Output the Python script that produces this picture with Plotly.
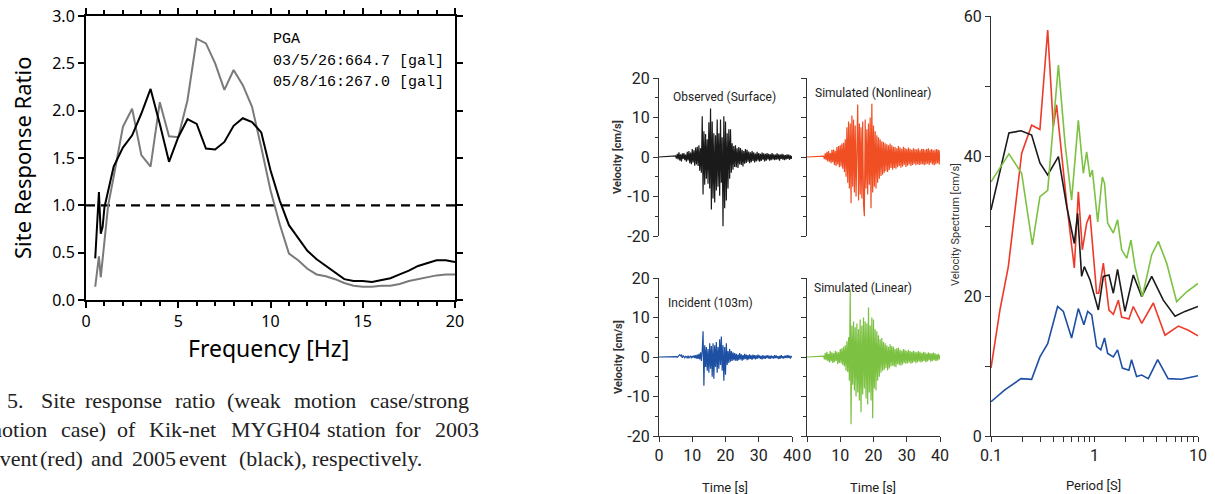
import plotly.graph_objects as go

W, H = 1215, 494

# ---------------- Left chart: site response ratio ----------------
freq_2005 = [0.5, 0.7, 0.8, 0.9, 1.0, 1.5, 2.0, 2.5, 3.0, 3.5, 4.0, 4.5, 5.0, 5.5, 6.0, 6.5, 7.0,
             7.5, 8.0, 8.5, 9.0, 9.5, 10.0, 10.5, 11.0, 11.5, 12.0, 12.5, 13.0, 13.5, 14.0, 14.5,
             15.0, 15.5, 16.0, 16.5, 17.0, 17.5, 18.0, 18.5, 19.0, 19.5, 20.0]
ratio_2005 = [0.44, 1.14, 0.70, 0.77, 0.98, 1.41, 1.61, 1.74, 1.97, 2.23, 1.86, 1.46, 1.72, 1.91,
              1.86, 1.60, 1.59, 1.67, 1.84, 1.92, 1.88, 1.77, 1.37, 1.05, 0.79, 0.66, 0.52, 0.43,
              0.36, 0.29, 0.22, 0.20, 0.20, 0.19, 0.21, 0.23, 0.27, 0.31, 0.36, 0.39, 0.42, 0.42, 0.40]
freq_2003 = [0.5, 0.7, 0.8, 1.0, 1.2, 1.5, 2.0, 2.5, 3.0, 3.5, 4.0, 4.5, 5.0, 5.5, 6.0, 6.5, 7.0,
             7.5, 8.0, 8.5, 9.0, 9.5, 10.0, 10.5, 11.0, 11.5, 12.0, 12.5, 13.0, 13.5, 14.0, 14.5,
             15.0, 15.5, 16.0, 16.5, 17.0, 17.5, 18.0, 18.5, 19.0, 19.5, 20.0]
ratio_2003 = [0.14, 0.46, 0.24, 0.62, 1.0, 1.30, 1.83, 2.02, 1.53, 1.41, 2.09, 1.73, 1.72, 2.11,
              2.76, 2.71, 2.50, 2.22, 2.43, 2.27, 2.04, 1.61, 1.16, 0.80, 0.49, 0.42, 0.33, 0.27,
              0.25, 0.22, 0.18, 0.15, 0.14, 0.14, 0.15, 0.15, 0.17, 0.20, 0.22, 0.24, 0.26, 0.27, 0.27]
ref_freq = [0, 20]
ref_ratio = [1.0, 1.0]
pga_lines = ["PGA", "03/5/26:664.7 [gal]", "05/8/16:267.0 [gal]"]

# ---------------- Middle: velocity waveforms ----------------
dt = 0.25
t_start = 5.0
wave_observed = [
    0.3, -0.4, 0.8, -0.6, 1.2, -0.9, 0.7, -1.1, 0.9, -0.5, 1.0, -0.8, 0.6,
    -1.2, 1.3, -0.9, 1.5, -1.6, 1.1, -1.8, 2.0, -1.4, 1.7, -2.2, 2.4,
    -1.9, 2.6, -2.3, 3.0, -3.5, 2.2, -4.0, 10.3,
    -9.5, 6.5, -7.0, 5.8, -5.5, 4.5, -6.8, 8.8,
    -8.0, 12.3, -13.3, 9.0, -10.5, 6.0, -11.5, 5.5,
    -8.5, 9.5, -7.5, 6.0, -9.8, 9.5, -6.5, 5.0,
    -17.5, 10.3, -13.0, 9.0, -11.0, 6.0, -8.0, 7.0,
    -5.5, 7.0, -4.0, 3.5, -3.2, 2.8, -2.5, 3.0,
    -2.6, 2.2, -2.8, 2.5, -1.9, 2.3, -2.0, 1.8, -2.4, 1.5, -1.7, 2.0,
    -1.5, 1.8, -1.2, 1.4, -1.6, 1.2, -1.3, 1.5, -1.0, 1.2, -1.4, 0.9, -1.1, 1.3, -0.9, 1.0,
    -1.2, 0.8, -1.0, 1.1, -0.7, 0.9, -1.1, 0.8, -0.9, 1.0, -0.6, 0.8, -0.9, 0.7, -0.8, 1.0, -0.6, 0.7, -0.8, 0.6,
    -0.7, 0.9, -0.6, 0.7, -0.9, 0.6, -0.5, 0.8, -0.7, 0.6, -0.8, 0.5, -0.6, 0.7, -0.5, 0.6, -0.7, 0.4, -0.5, 0.3]
wave_nonlinear = [
    0.2, -0.5, 0.9, -0.8, 1.3, -1.1, 1.5, -1.2, 1.0, -1.6, 1.8, -1.3, 1.9,
    -2.0, 1.6, -2.3, 2.5, -1.9, 2.8, -2.6, 3.0, -2.4, 3.4, -3.0, 3.6,
    -3.8, 4.5, -5.0, 7.5, -6.5, 9.0, -8.0, 8.5,
    -11.7, 10.5, -7.5, 9.5, -9.0, 8.0, -10.0, 11.0,
    13.3, -11.0, 8.5, -9.5, 7.5, -10.5, 9.0, -12.0,
    -15.0, 9.5, -8.0, 7.0, -9.5, 8.5, -7.0, 10.0,
    -13.0, 13.5, -9.0, 8.0, -7.5, 6.5, -8.0, 5.5,
    -6.5, 5.0, -5.5, 4.5, -4.8, 4.0, -4.5, 3.8,
    -4.0, 3.5, -3.6, 3.2, -3.8, 3.0, -3.3, 3.4, -2.8, 3.0, -3.2, 2.6,
    -2.8, 2.5, -3.0, 2.2, -2.6, 2.8, -2.3, 2.4, -2.7, 2.1, -2.4, 2.6, -2.0, 2.3, -2.5, 2.0,
    -2.2, 2.4, -1.9, 2.1, -2.3, 1.8, -2.0, 2.2, -1.7, 2.0, -2.1, 1.9, -1.8, 2.2, -2.0, 1.7, -1.9, 2.1, -1.8, 2.0,
    -2.1, 1.8, -1.9, 2.0, -1.7, 2.2, -2.0, 1.8, -1.6, 2.0, -1.9, 1.7, -2.1, 1.9, -1.8, 2.0, -1.6, 1.8, -1.9, 1.7]
wave_incident = [
    0.0, 0.1, -0.1, 0.2, 0.5, 0.6, 0.3, 0.5, -0.2, 0.3, 0.1, -0.2, 0.2,
    0.1, -0.3, 0.3, -0.2, 0.1, 0.3, -0.3, 0.2, -0.1, 0.4, -0.3, 0.5,
    -0.4, 0.6, -0.5, 0.8, -0.6, 1.2, -1.0, 1.5,
    6.5, -7.3, 3.0, -2.5, 2.5, -3.5, 2.0, -4.0,
    3.5, -3.0, 2.8, -5.0, 3.5, -5.5, 3.0, -2.5,
    3.8, -4.0, 2.5, -3.0, 4.5, -2.0, 5.2, -3.5,
    3.0, -6.0, 2.5, -4.5, 3.5, -2.0, 1.5, -1.5,
    2.0, -1.2, 1.5, -1.0, 1.2, -0.8, 1.0, -0.9,
    0.8, -1.0, 0.6, -0.8, 1.0, -0.6, 0.7, -0.9, 0.5, -0.7, 0.8, -0.5,
    0.6, -0.8, 0.5, -0.6, 0.7, -0.5, 0.4, -0.7, 0.6, -0.4, 0.5, -0.6, 0.4, -0.5, 0.6, -0.3,
    0.4, -0.5, 0.3, -0.6, 0.5, -0.4, 0.3, -0.5, 0.4, -0.3, 0.5, -0.4, 0.3, -0.5, 0.4, -0.3, 0.2, -0.4, 0.5, -0.3,
    0.4, -0.3, 0.2, -0.5, 0.3, -0.4, 0.5, -0.3, 0.2, -0.4, 0.3, -0.2, 0.4, -0.3, 0.5, -0.2, 0.3, -0.4, 0.2, 0.0]
wave_linear = [
    0.2, -0.6, 1.0, -0.8, 1.3, -1.0, 0.8, -1.4, 1.5, -1.1, 1.2, -1.5, 1.0,
    -1.3, 1.6, -1.0, 1.4, -1.8, 1.2, -1.5, 2.0, -1.6, 2.2, -2.0, 2.6,
    -2.4, 3.0, -3.5, 4.0, -3.8, 5.0, -6.0, 17.0,
    -17.0, 8.0, -7.0, 9.0, -8.5, 7.5, -10.0, 8.5,
    -9.0, 7.0, -11.0, 9.5, -14.0, 8.0, -9.5, 10.0,
    -8.0, 9.0, -10.5, 8.5, -12.0, 12.5, -9.0, 8.0,
    -11.0, 10.0, -15.5, 9.5, -8.0, 7.0, -8.5, 6.5,
    -6.0, 5.5, -5.0, 4.5, -4.0, 4.8, -3.5, 3.8,
    -3.2, 3.5, -2.8, 3.0, -3.4, 2.6, -2.9, 3.2, -2.4, 2.8, -2.2, 2.6,
    -2.4, 2.0, -2.6, 2.2, -1.8, 2.4, -2.0, 1.8, -2.2, 1.6, -1.9, 2.0, -1.5, 1.8, -1.7, 1.5,
    -1.6, 1.8, -1.4, 1.5, -1.7, 1.3, -1.5, 1.6, -1.2, 1.4, -1.6, 1.2, -1.3, 1.5, -1.1, 1.3, -1.4, 1.0, -1.2, 1.3,
    -1.0, 1.2, -1.3, 0.9, -1.1, 1.2, -0.8, 1.0, -1.2, 0.9, -1.0, 1.1, -0.8, 0.9, -1.0, 0.7, -0.9, 0.8, -0.6, 0.5]
wave_titles = ["Observed (Surface)", "Simulated (Nonlinear)", "Incident (103m)", "Simulated (Linear)"]
vel_ticks = [-20, -10, 0, 10, 20]
vel_ticktext = ["-20", "-10", "0", "10", "20"]
time_ticks = [0, 10, 20, 30, 40]

# ---------------- Right: velocity spectrum ----------------
period_black = [0.1, 0.149, 0.195, 0.247, 0.297, 0.353, 0.448, 0.539, 0.638, 0.687, 0.751, 0.797,
                0.905, 1.089, 1.217, 1.38, 1.52, 1.67, 1.97, 2.37, 2.86, 3.57, 4.62, 6.0, 7.48, 10.0]
spec_black = [32.3, 43.3, 43.6, 43.0, 39.0, 37.3, 39.9, 32.8, 27.5, 31.8, 22.8, 24.2,
              22.3, 18.0, 22.8, 23.0, 20.4, 23.8, 17.8, 23.0, 19.9, 22.8, 19.4, 17.1, 17.8, 18.5]
period_red = [0.1, 0.122, 0.147, 0.198, 0.247, 0.297, 0.353, 0.40, 0.43, 0.539, 0.638, 0.698,
              0.763, 0.84, 0.905, 1.048, 1.1, 1.217, 1.38, 1.52, 1.70, 1.83, 2.15, 2.37, 2.86,
              3.70, 4.80, 6.46, 8.07, 10.0]
spec_red = [9.7, 18.0, 24.2, 40.4, 44.4, 43.8, 58.0, 44.2, 47.3, 33.2, 24.0, 34.9,
            26.6, 30.4, 31.6, 20.4, 20.4, 24.7, 18.0, 17.4, 19.4, 17.0, 16.7, 18.5, 16.1,
            19.0, 14.4, 15.7, 15.1, 14.3]
period_green = [0.1, 0.149, 0.198, 0.251, 0.297, 0.353, 0.448, 0.519, 0.601, 0.698, 0.78, 0.84,
                0.905, 0.953, 1.074, 1.19, 1.25, 1.34, 1.52, 1.67, 1.83, 2.05, 2.25, 2.46, 2.90,
                3.57, 4.14, 4.98, 6.22, 7.78, 10.0]
spec_green = [36.3, 40.3, 37.5, 27.3, 34.2, 35.1, 53.0, 41.8, 33.7, 45.1, 37.5, 40.6,
              37.0, 38.0, 30.6, 37.0, 36.1, 30.4, 29.0, 30.9, 26.6, 25.4, 28.0, 24.2, 19.9,
              25.9, 27.8, 24.7, 19.2, 20.6, 21.8]
period_blue = [0.1, 0.136, 0.195, 0.247, 0.297, 0.353, 0.44, 0.50, 0.601, 0.698, 0.79, 0.86,
               0.94, 1.048, 1.15, 1.25, 1.34, 1.52, 1.67, 1.86, 2.15, 2.28, 2.55, 2.86, 3.31,
               4.08, 5.14, 6.9, 10.0]
spec_blue = [4.9, 6.6, 8.2, 8.1, 11.3, 13.2, 18.5, 17.8, 14.0, 18.2, 15.9, 17.8,
             17.3, 12.8, 12.3, 14.0, 11.8, 11.3, 12.3, 9.7, 9.4, 10.9, 8.5, 8.7, 8.2,
             10.9, 8.2, 8.1, 8.6]
period_ticks = [0.1, 0.2, 0.3, 0.4, 0.5, 0.6, 0.7, 0.8, 0.9, 1, 2, 3, 4, 5, 6, 7, 8, 9, 10]
period_labels = ["0.1", "", "", "", "", "", "", "", "", "1", "", "", "", "", "", "", "", "", "10"]
spec_ticks = [0, 10, 20, 30, 40, 50, 60]
spec_labels = ["0", "", "20", "", "40", "", "60"]

# ---------------- Caption words (x position in px, word) ----------------
caption_lines = [
    (400, [(5, "5."), (39, "Site"), (83, "response"), (173, "ratio"), (225, "(weak"),
           (292, "motion"), (368, "case/strong")]),
    (429, [(-17, "motion"), (59, "case)"), (115, "of"), (147, "Kik-net"), (229, "MYGH04"),
           (325, "station"), (393, "for"), (433, "2003")]),
    (458, [(-12, "event"), (38, "(red)"), (89, "and"), (130, "2005"), (177, "event"),
           (237, "(black),"), (310, "respectively.")]),
]

COL_BLACK = "#1a1a1a"
COL_RED = "#ee3a2a"
COL_WAVE_RED = "#f04e23"
COL_GREEN = "#7cc142"
COL_BLUE = "#1d4fa3"


def px(x):
    return x / W


def py(y):
    return 1 - y / H


fig = go.Figure()

# Left chart traces
fig.add_trace(go.Scatter(x=ref_freq, y=ref_ratio, mode="lines", xaxis="x", yaxis="y",
                         line=dict(color="black", width=2.2, dash="9px,6px"), showlegend=False))
fig.add_trace(go.Scatter(x=freq_2003, y=ratio_2003, mode="lines", xaxis="x", yaxis="y",
                         line=dict(color="#7a7a7a", width=2), showlegend=False))
fig.add_trace(go.Scatter(x=freq_2005, y=ratio_2005, mode="lines", xaxis="x", yaxis="y",
                         line=dict(color="black", width=2), showlegend=False))

# Waveforms
waves = [(wave_observed, COL_BLACK, "x2", "y2"),
         (wave_nonlinear, COL_WAVE_RED, "x3", "y3"),
         (wave_incident, COL_BLUE, "x4", "y4"),
         (wave_linear, COL_GREEN, "x5", "y5")]
for vals, col, xa, ya in waves:
    times = [0.0] + [t_start + dt * i for i in range(len(vals))]
    fig.add_trace(go.Scatter(x=times, y=[0.0] + vals, mode="lines", xaxis=xa, yaxis=ya,
                             line=dict(color=col, width=1.2), showlegend=False))

# Spectrum
for per, val, col in [(period_blue, spec_blue, COL_BLUE), (period_red, spec_red, COL_RED),
                      (period_black, spec_black, COL_BLACK), (period_green, spec_green, COL_GREEN)]:
    fig.add_trace(go.Scatter(x=per, y=val, mode="lines", xaxis="x6", yaxis="y6",
                             line=dict(color=col, width=1.6), showlegend=False))

left_font = dict(family="Noto Sans, DejaVu Sans, sans-serif", size=16, color="black")
mid_font = dict(family="Liberation Sans Narrow, Roboto, Open Sans, sans-serif", size=16, color="#222")
axcol = "#333"

layout = dict(
    width=W, height=H, margin=dict(l=0, r=0, t=0, b=0, autoexpand=False),
    paper_bgcolor="white", plot_bgcolor="rgba(0,0,0,0)", showlegend=False,
    xaxis=dict(domain=[px(86), px(455)], range=[0, 20], anchor="y", showline=True, linewidth=2,
               linecolor="black", mirror="ticks", ticks="outside", ticklen=6, tickwidth=1.5,
               tickcolor="black", dtick=5, tick0=0, showgrid=False, zeroline=False, tickfont=left_font,
               minor=dict(ticks="outside", dtick=1, ticklen=4, tickcolor="black", showgrid=False)),
    yaxis=dict(domain=[py(300), py(16)], range=[0, 3], anchor="x", showline=True, linewidth=2,
               linecolor="black", mirror="ticks", ticks="outside", ticklen=6, tickwidth=1.5,
               tickcolor="black", dtick=0.5, tick0=0, tickformat=".1f", showgrid=False,
               zeroline=False, tickfont=left_font),
)

mid_x = {"x2": (659, 792), "x3": (807, 940), "x4": (659, 792), "x5": (807, 940)}
mid_y = {"y2": (78, 236), "y3": (78, 236), "y4": (278, 436), "y5": (278, 436)}
for i, (xa, ya) in enumerate([("x2", "y2"), ("x3", "y3"), ("x4", "y4"), ("x5", "y5")]):
    xk = "xaxis" + xa[1:]
    yk = "yaxis" + ya[1:]
    bottom = i >= 2
    leftcol = i in (0, 2)
    layout[xk] = dict(domain=[px(mid_x[xa][0]), px(mid_x[xa][1])], range=[0, 40], anchor=ya,
                      showline=bottom, linecolor=axcol, linewidth=1.2,
                      ticks="outside" if bottom else "", ticklen=5, tickcolor=axcol,
                      tickvals=time_ticks, showticklabels=bottom, tickfont=mid_font,
                      showgrid=False, zeroline=False)
    layout[yk] = dict(domain=[py(mid_y[ya][1]), py(mid_y[ya][0])], range=[-20, 20], anchor=xa,
                      showline=True, linecolor=axcol, linewidth=1.2, ticks="outside", ticklen=5,
                      tickcolor=axcol, tickvals=vel_ticks, ticktext=vel_ticktext,
                      showticklabels=leftcol, tickfont=mid_font, showgrid=False, zeroline=False,
                      minor=dict(ticks="outside", dtick=5, ticklen=3, tickcolor=axcol, showgrid=False))

layout["xaxis6"] = dict(domain=[px(991), px(1198)], type="log", range=[-1, 1], anchor="y6",
                        showline=True, linecolor=axcol, linewidth=1.2, ticks="outside", ticklen=5,
                        tickcolor=axcol, tickvals=period_ticks, ticktext=period_labels,
                        tickfont=mid_font, showgrid=False, zeroline=False)
layout["yaxis6"] = dict(domain=[py(436), py(16)], range=[0, 60], anchor="x6", showline=True,
                        linecolor=axcol, linewidth=1.2, ticks="outside", ticklen=5, tickcolor=axcol,
                        tickvals=spec_ticks, ticktext=spec_labels, tickfont=mid_font,
                        showgrid=False, zeroline=False)

annotations = []


def ann(x, y, text, size, family, color="black", angle=0, xanchor="center", yanchor="middle"):
    annotations.append(dict(x=px(x), y=py(y), xref="paper", yref="paper", text=text,
                            showarrow=False, textangle=angle, xanchor=xanchor, yanchor=yanchor,
                            font=dict(size=size, family=family, color=color)))


sans = "Noto Sans, DejaVu Sans, sans-serif"
narrow = "Liberation Sans Narrow, Roboto, Open Sans, sans-serif"
mono = "Liberation Mono, DejaVu Sans Mono, monospace"
serif = "Liberation Serif, DejaVu Serif, serif"

ann(22, 158, "Site Response Ratio", 22, sans, angle=-90)
ann(268, 348, "Frequency [Hz]", 23, sans)
for k, line in enumerate(pga_lines):
    ann(271, 40 + k * 21.5, line, 15, mono, xanchor="left")

# waveform titles and labels
ann(725, 97, wave_titles[0], 12, narrow, color="#222")
ann(873, 93, wave_titles[1], 12, narrow, color="#222")
ann(710, 303, wave_titles[2], 12, narrow, color="#222")
ann(863, 288, wave_titles[3], 12, narrow, color="#222")
ann(618, 157, "<b>Velocity [cm/s]</b>", 11, narrow, color="#333", angle=-90)
ann(618, 357, "<b>Velocity [cm/s]</b>", 11, narrow, color="#333", angle=-90)
ann(725, 487, "Time [s]", 13, narrow, color="#222")
ann(873, 487, "Time [s]", 13, narrow, color="#222")
ann(955, 225, "Velocity Spectrum [cm/s]", 11, narrow, color="#333", angle=-90)
ann(1093, 485, "Period [S]", 13, narrow, color="#222")

for yline, words in caption_lines:
    for xw, w in words:
        ann(xw, yline, w, 22, serif, color="#222", xanchor="left")

layout["annotations"] = annotations
fig.update_layout(**layout)
fig.write_html("out.html", config={"displayModeBar": False},
               post_script="document.body.style.margin='0';document.body.style.overflow='hidden';")
